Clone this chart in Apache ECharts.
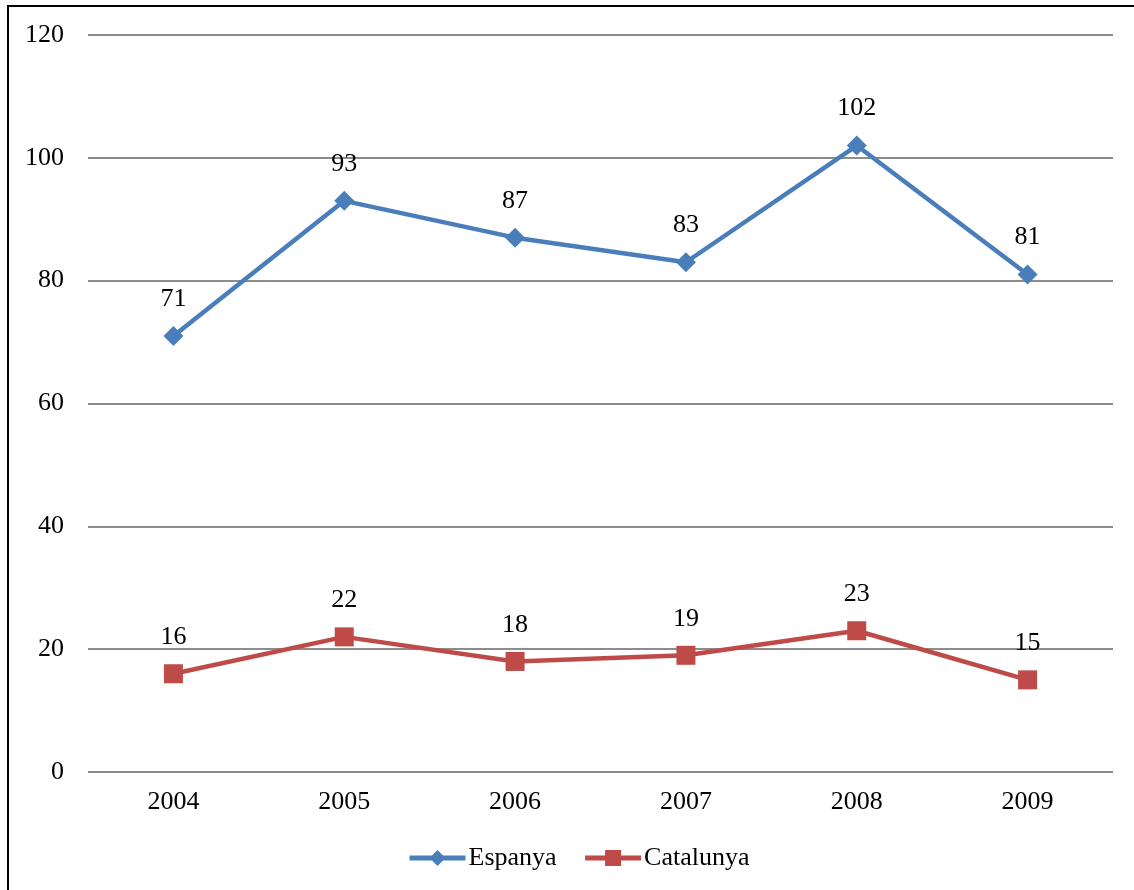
<!DOCTYPE html>
<html>
<head>
<meta charset="utf-8">
<script src="https://cdn.jsdelivr.net/npm/echarts@6/dist/echarts.min.js"></script>
<style>
  html, body { margin: 0; padding: 0; background: #fff; }
  #chart { width: 1134px; height: 890px; }
</style>
</head>
<body>
<div id="chart"></div>
<script>
const years = ['2004', '2005', '2006', '2007', '2008', '2009'];
const espanya = [71, 93, 87, 83, 102, 81];
const catalunya = [16, 22, 18, 19, 23, 15];

const colors = {
  blue: '#4A7EBB',
  red: '#BE4B48',
  grid: '#8C8C8C',
  text: '#000000'
};
const serif = '"Liberation Serif", "Times New Roman", serif';
const fs = 26;

const chart = echarts.init(document.getElementById('chart'));
chart.setOption({
  animation: false,
  textStyle: { fontFamily: serif, color: colors.text },
  grid: { left: 88, right: 21, top: 35, bottom: 118 },
  graphic: [{
    type: 'rect',
    shape: { x: 8, y: 6, width: 1200, height: 1000 },
    style: { fill: 'none', stroke: '#000', lineWidth: 2 },
    silent: true
  }],
  legend: {
    bottom: 14,
    left: 402,
    itemWidth: 56,
    itemHeight: 20,
    itemGap: 26,
    lineStyle: { width: 5 },
    textStyle: { fontFamily: serif, fontSize: fs, color: colors.text, padding: [0, 0, 0, -2] },
    data: ['Espanya', 'Catalunya']
  },
  xAxis: {
    type: 'category',
    data: years,
    axisLine: { show: false },
    axisTick: { show: false },
    axisLabel: { fontFamily: serif, fontSize: fs, color: colors.text, margin: 17 }
  },
  yAxis: {
    type: 'value',
    min: 0, max: 120, interval: 20,
    axisLine: { show: false },
    axisTick: { show: false },
    axisLabel: { fontFamily: serif, fontSize: fs, color: colors.text, margin: 24 },
    splitLine: { lineStyle: { color: colors.grid, width: 2 } }
  },
  series: [
    {
      name: 'Espanya', type: 'line', data: espanya,
      symbol: 'diamond', symbolSize: 20,
      lineStyle: { color: colors.blue, width: 4.5 },
      itemStyle: { color: colors.blue },
      label: { show: true, position: 'top', distance: 14, fontFamily: serif, fontSize: fs, color: colors.text }
    },
    {
      name: 'Catalunya', type: 'line', data: catalunya,
      symbol: 'rect', symbolSize: 19,
      lineStyle: { color: colors.red, width: 4.5 },
      itemStyle: { color: colors.red },
      label: { show: true, position: 'top', distance: 14, fontFamily: serif, fontSize: fs, color: colors.text }
    }
  ]
});
</script>
</body>
</html>
